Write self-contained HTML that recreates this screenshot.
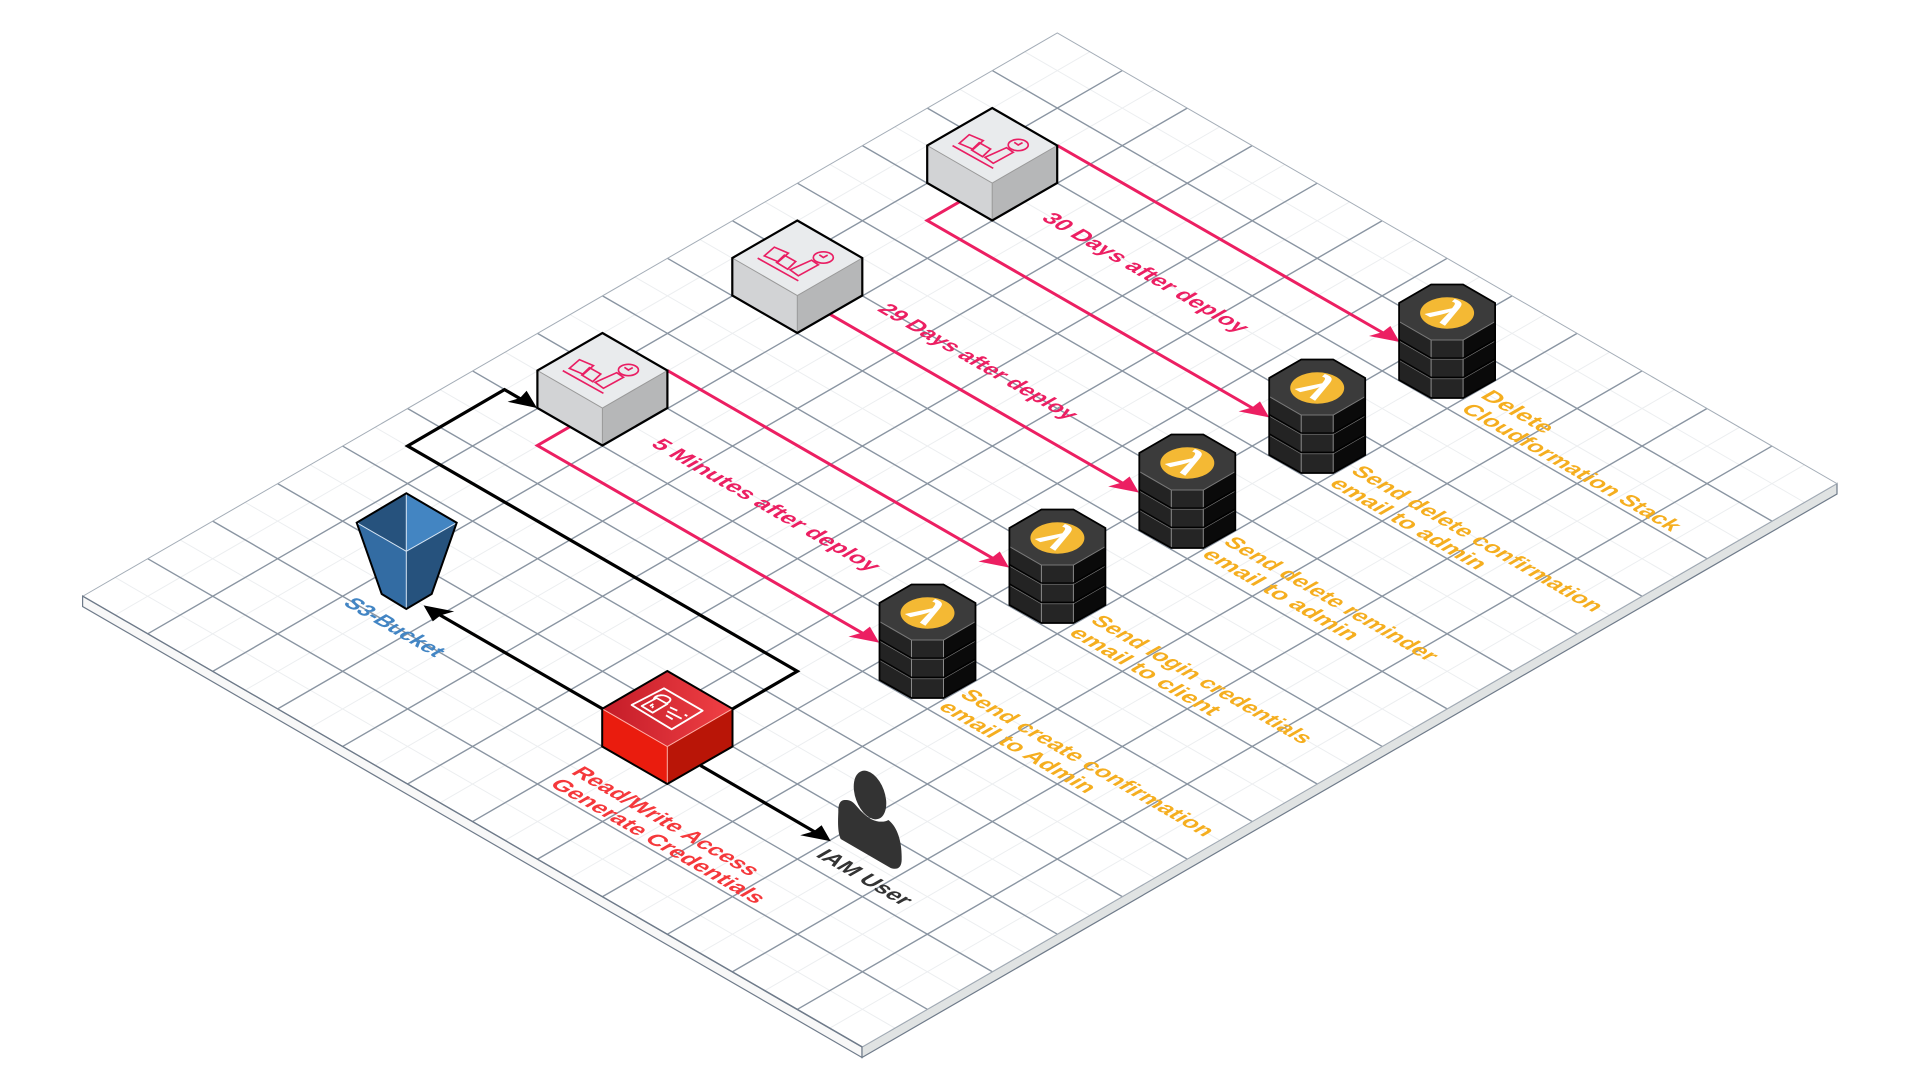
<!DOCTYPE html>
<html><head><meta charset="utf-8"><style>
html,body{margin:0;padding:0;background:#fff;width:1920px;height:1080px;overflow:hidden}
svg{display:block}
text{font-family:"Liberation Sans",sans-serif;font-weight:700;font-size:22px}
</style></head><body>
<svg width="1920" height="1080" viewBox="0 0 1920 1080" xmlns="http://www.w3.org/2000/svg">
<defs>
<linearGradient id="rt" x1="0" y1="0" x2="1" y2="0"><stop offset="0" stop-color="#c41c28"/><stop offset="1" stop-color="#f04045"/></linearGradient>
<g id="gbox">
<polygon points="0,0 65,37.5 0,75 -65,37.5" fill="#e9ebed"/>
<polygon points="-65,37.5 0,75 0,112.5 -65,75" fill="#d2d3d5"/>
<polygon points="65,37.5 0,75 0,112.5 65,75" fill="#b6b7b8"/>
<path d="M-65,37.5 0,75 65,37.5M0,75V112.5" fill="none" stroke="#999" stroke-width="1"/>
<polygon points="0,0 65,37.5 65,75 0,112.5 -65,75 -65,37.5" fill="none" stroke="#000" stroke-width="2.2"/>
<g transform="translate(-72.3,-8) scale(.3333)" fill="none" stroke="#e91e63" stroke-width="5">
<path d="M98,137 220,205"/>
<polygon points="118,130 148,104 190,122 160,148"/>
<polygon points="155,150 178,128 212,147 188,170"/>
<polygon points="195,172 260,143 280,157 220,190"/>
<ellipse cx="295" cy="135" rx="30" ry="17"/>
<path d="M283,127 295,135 308,128"/>
</g>
</g>
<g id="lay">
<polygon points="-48,75.6 -16,94.1 -16,113.4 -48,94.9" fill="#232323"/>
<polygon points="48,75.6 16,94.1 16,113.4 48,94.9" fill="#0a0a0a"/>
<polygon points="-16,94.1 16,94.1 16,113.4 -16,113.4" fill="#252525"/>
<path d="M-48,75.6 -16,94.1 16,94.1 48,75.6M-16,94.1V113.4M16,94.1V113.4" fill="none" stroke="#8a8a8a" stroke-width="1"/>
</g>
<g id="lam">
<polygon points="-48,18.5 -16,0 16,0 48,18.5 48,95.5 16,113.5 -16,113.5 -48,95.5" fill="#000"/>
<use href="#lay"/>
<use href="#lay" y="-19.3"/>
<use href="#lay" y="-38.6"/>
<path d="M-48,55 -16,73.5 16,73.5 48,55M-48,74.3 -16,92.8 16,92.8 48,74.3" fill="none" stroke="#000" stroke-width="1.3"/>
<polygon points="-16,0 16,0 48,18.5 48,37 16,55.5 -16,55.5 -48,37 -48,18.5" fill="#3b3b3b" stroke="#777" stroke-width="1"/>
<polygon points="-48,18.5 -16,0 16,0 48,18.5 48,95.5 16,113.5 -16,113.5 -48,95.5" fill="none" stroke="#000" stroke-width="1.8"/>
<ellipse cx="0" cy="28.5" rx="27" ry="15.7" fill="#f4b934"/>
<text transform="matrix(.866 .5 -.866 .5 0 28.5)" style="font-size:44px" x="0" y="14" text-anchor="middle" fill="#fff">λ</text>
</g>
</defs>

<!-- base -->
<polygon points="82.6,596 862,1047 862,1057.5 82.6,606.5" fill="#f8f8f8" stroke="#6f7b8a" stroke-width="1.2"/>
<polygon points="862,1047 1837,483.5 1837,494 862,1057.5" fill="#e0e3e3" stroke="#6f7b8a" stroke-width="1.2"/>
<polygon points="1057.3,33 1837,483.5 862,1047 82.6,596" fill="#fff"/>

<!-- grid -->
<g transform="matrix(64.97 37.55 -64.97 37.55 1057.3 33)" fill="none">
<path vector-effect="non-scaling-stroke" stroke="#eceef0" stroke-width="1" d="M.5 0V15M1.5 0V15M2.5 0V15M3.5 0V15M4.5 0V15M5.5 0V15M6.5 0V15M7.5 0V15M8.5 0V15M9.5 0V15M10.5 0V15M11.5 0V15M0 .5H12M0 1.5H12M0 2.5H12M0 3.5H12M0 4.5H12M0 5.5H12M0 6.5H12M0 7.5H12M0 8.5H12M0 9.5H12M0 10.5H12M0 11.5H12M0 12.5H12M0 13.5H12M0 14.5H12"/>
<path vector-effect="non-scaling-stroke" stroke="#8a95a2" stroke-width="1.4" d="M1 0V15M2 0V15M3 0V15M4 0V15M5 0V15M6 0V15M7 0V15M8 0V15M9 0V15M10 0V15M11 0V15M0 1H12M0 2H12M0 3H12M0 4H12M0 5H12M0 6H12M0 7H12M0 8H12M0 9H12M0 10H12M0 11H12M0 12H12M0 13H12M0 14H12"/>
<path vector-effect="non-scaling-stroke" stroke="#a4adb7" stroke-width="1" d="M0 15V0H12V15"/>
<path vector-effect="non-scaling-stroke" stroke="#6f7b8a" stroke-width="1.2" d="M0 15H12"/>
</g>
<path d="M82.6,596 862,1047" stroke="#6f7b8a" stroke-width="1.2" fill="none"/>

<!-- pink connectors -->
<g fill="none" stroke="#ec1f62" stroke-width="3">
<path d="M667.4,370.5 995,559.6"/>
<path d="M569.9,426.7 537.4,445.5 865,634.6"/>
<path d="M829.8,314.2 1125,484.6"/>
<path d="M959.7,201.7 927.2,220.5 1255,409.5"/>
<path d="M1057.3,145.5 1385,334"/>
</g>
<g fill="#ec1f62">
<polygon points="1009,567.5 978.4,561.5 992,557.5 999.8,551.5"/>
<polygon points="879.1,642.6 848.5,636.6 862.1,632.6 869.9,626.6"/>
<polygon points="1138.8,492.5 1108.2,486.5 1121.8,482.5 1129.6,476.5"/>
<polygon points="1269.2,417.4 1238.6,411.4 1252.2,407.4 1260,401.4"/>
<polygon points="1399.6,342 1369,336 1382.6,332 1390.4,326"/>
</g>

<!-- black connectors -->
<g fill="none" stroke="#000" stroke-width="3.2">
<path d="M602.4,708.8 438,613.9"/>
<path d="M732.8,708.8 797.3,671.2 407.6,446 504.5,389.6 522,399.7"/>
<path d="M700.5,765.5 816,832.6"/>
</g>
<g fill="#000">
<polygon points="423.6,605.4 454.2,611.4 440.6,615.4 432.8,621.4"/>
<polygon points="537,408 507.6,401.8 520,398 526.6,390.8"/>
<polygon points="830.8,841.3 800.2,835.3 813.8,831.3 821.6,825.3"/>
</g>

<!-- gray boxes -->
<use href="#gbox" x="602.4" y="333"/>
<use href="#gbox" x="797.3" y="220.5"/>
<use href="#gbox" x="992.2" y="108"/>

<!-- lambdas -->
<use href="#lam" x="927.5" y="584.5"/>
<use href="#lam" x="1057.4" y="509.5"/>
<use href="#lam" x="1187.3" y="434.5"/>
<use href="#lam" x="1317.2" y="359.5"/>
<use href="#lam" x="1447.1" y="284.5"/>

<!-- red box -->
<polygon points="667.3,671 732.5,708.8 667.3,746.5 602.2,708.8" fill="url(#rt)"/>
<polygon points="602.2,708.8 667.3,746.5 667.3,784 602.2,746.5" fill="#ea1c0e"/>
<polygon points="732.5,708.8 667.3,746.5 667.3,784 732.5,746.5" fill="#b91507"/>
<path d="M602.2,708.8 667.3,746.5 732.5,708.8M667.3,746.5V784" fill="none" stroke="#ffb0a8" stroke-width="1"/>
<polygon points="667.3,671 732.5,708.8 732.5,746.5 667.3,784 602.2,746.5 602.2,708.8" fill="none" stroke="#000" stroke-width="2"/>
<g transform="translate(590,670) scale(.3333)" fill="none" stroke="#fff" stroke-width="5.5" stroke-linejoin="round">
<polygon points="222,55 338,122 245,178 125,105"/>
<polygon points="155,108 200,84 232,102 188,128"/>
<path d="M190,90 C195,72 225,72 240,85 C245,92 235,98 230,100"/>
<path d="M180,108 L190,102 M186,114 L190,108"/>
<path d="M240,112 L262,122M232,124 L275,146M228,136 L248,148M284,134 L292,138"/>
</g>

<!-- S3 bucket -->
<polygon points="406.3,493.3 356.7,522.7 406.3,551.3" fill="#26527d"/>
<polygon points="406.3,493.3 456.7,522.7 406.3,551.3" fill="#4385c2"/>
<polygon points="356.7,522.7 406.3,551.3 406.3,609 381.7,594" fill="#336ca3"/>
<polygon points="456.7,522.7 406.3,551.3 406.3,609 431.7,594" fill="#26527d"/>
<path d="M406.3,493.3V609M356.7,522.7 406.3,551.3 456.7,522.7" fill="none" stroke="#d8e6f4" stroke-width="1"/>
<polygon points="406.3,493.3 456.7,522.7 431.7,594 406.3,609 381.7,594 356.7,522.7" fill="none" stroke="#000" stroke-width="2"/>

<!-- IAM user -->
<g transform="translate(820,770) scale(.3333)" fill="#333">
<ellipse cx="150" cy="75" rx="44" ry="76" transform="rotate(-20 150 75)"/>
<path d="M76,90 C60,88 54,105 55,125 C54,150 52,185 62,207 L212,294 C235,302 246,290 245,265 C246,215 232,170 205,150 C195,157 172,157 155,148 C135,138 118,118 104,102 C95,92 86,90 76,90 Z"/>
</g>

<!-- labels -->
<g transform="translate(.5,-3.5)">
<g fill="#ec1f62">
<text transform="matrix(.866 .5 -.866 .5 1039.9 222.5)" textLength="229" lengthAdjust="spacingAndGlyphs">30 Days after deploy</text>
<text transform="matrix(.866 .5 -.866 .5 875.8 313.5)" textLength="221" lengthAdjust="spacingAndGlyphs">29 Days after deploy</text>
<text transform="matrix(.866 .5 -.866 .5 649.3 448.5)" textLength="254.5" lengthAdjust="spacingAndGlyphs">5 Minutes after deploy</text>
</g>
<g fill="#f5ae1f">
<text transform="matrix(.866 .5 -.866 .5 1478.9 400.1)" textLength="75" lengthAdjust="spacingAndGlyphs">Delete</text>
<text transform="matrix(.866 .5 -.866 .5 1459.3 413.5)" textLength="243.8" lengthAdjust="spacingAndGlyphs">Cloudformation Stack</text>
<text transform="matrix(.866 .5 -.866 .5 1349.3 475.5)" textLength="281" lengthAdjust="spacingAndGlyphs">Send delete confirmation</text>
<text transform="matrix(.866 .5 -.866 .5 1327.7 487.9)" textLength="171.7" lengthAdjust="spacingAndGlyphs">email to admin</text>
<text transform="matrix(.866 .5 -.866 .5 1221.8 546.5)" textLength="237.5" lengthAdjust="spacingAndGlyphs">Send delete reminder</text>
<text transform="matrix(.866 .5 -.866 .5 1200.2 558.9)" textLength="171.7" lengthAdjust="spacingAndGlyphs">email to admin</text>
<text transform="matrix(.866 .5 -.866 .5 1088.9 625)" textLength="246" lengthAdjust="spacingAndGlyphs">Send login credentials</text>
<text transform="matrix(.866 .5 -.866 .5 1067.3 637.4)" textLength="164.7" lengthAdjust="spacingAndGlyphs">email to client</text>
<text transform="matrix(.866 .5 -.866 .5 958.3 699)" textLength="283.4" lengthAdjust="spacingAndGlyphs">Send create confirmation</text>
<text transform="matrix(.866 .5 -.866 .5 936.7 711.4)" textLength="172" lengthAdjust="spacingAndGlyphs">email to Admin</text>
</g>
<text fill="#4285c4" transform="matrix(.866 .5 -.866 .5 341.6 607.5)" textLength="107" lengthAdjust="spacingAndGlyphs">S3-Bucket</text>
<g fill="#f5383b">
<text transform="matrix(.866 .5 -.866 .5 569.7 776.5)" textLength="207" lengthAdjust="spacingAndGlyphs">Read/Write Access</text>
<text transform="matrix(.866 .5 -.866 .5 548.3 788.5)" textLength="238.6" lengthAdjust="spacingAndGlyphs">Generate Credentials</text>
</g>
<text fill="#333" transform="matrix(.866 .5 -.866 .5 814.3 859.2)" textLength="101" lengthAdjust="spacingAndGlyphs">IAM User</text>
</g>
</svg>
</body></html>
